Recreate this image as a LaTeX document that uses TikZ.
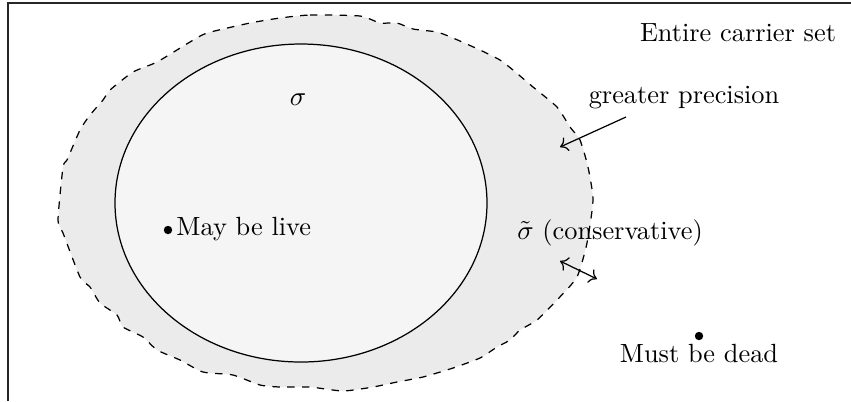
\documentclass[tikz,border=0pt]{standalone}
\usetikzlibrary{arrows.meta}
\definecolor{outerfill}{HTML}{EBEBEB}
\definecolor{innerfill}{HTML}{F5F5F5}
\begin{document}
\begin{tikzpicture}[x=0.01422cm,y=-0.01422cm,
  lbl/.style={inner sep=0pt,font=\fontsize{10.65}{13}\selectfont},
  dotpt/.style={circle,fill=black,inner sep=0pt,minimum size=3.4pt},
  arr/.style={-{To[length=3pt,width=6pt]},line width=0.5pt}]
\useasboundingbox (0,0) rectangle (851,401);
\draw[line width=0.6pt,black!85] (8,401) -- (8,3) -- (851,3);
% outer conservative region
\draw[dashed,fill=outerfill,line width=0.5pt] plot[smooth cycle,tension=0.35] coordinates {
 (280,18) (310,15) (360,16) (380,23) (397,23) (413,29) (437,32) (453,38)
 (480,50) (500,60) (513,70) (533,87) (557,107) (570,127) (580,140) (588,167)
 (593,200) (587,243) (577,277) (557,300) (537,320) (520,330) (510,340) (497,347)
 (480,358) (453,368) (423,377) (397,382) (373,387) (343,391) (310,387) (280,387)
 (260,385) (233,375) (203,372)
 (180,360) (157,350) (143,337) (123,327) (117,315) (100,303) (90,287)
 (80,277) (63,233) (58,220) (63,167) (67,160) (80,130) (90,115) (103,100)
 (110,90) (133,72) (157,62) (190,42) (207,33) (250,23)};
% inner sigma
\draw[fill=innerfill,line width=0.5pt] (301,203) ellipse [x radius=186, y radius=159];
% labels
\node[lbl] (sigma) at (298,100) {$\sigma$};
\node[dotpt] (live) at (168,230) {};
\node[lbl,anchor=west] (livelbl) at (176,229) {May be live};
\node[lbl] (cons) at (610,233) {$\tilde{\sigma}$ (conservative)};
\node[dotpt] (dead) at (699,336) {};
\node[lbl,anchor=base] (deadlbl) at (699,362) {Must be dead};
\node[lbl] (entire) at (738,33) {Entire carrier set};
\node[lbl] (prec) at (684,98) {greater precision};
% arrows
\coordinate (p1) at (626,117);
\coordinate (p2) at (560,147);
\draw[arr] (p1) -- (p2);
\coordinate (q1) at (560,261);
\coordinate (q2) at (597,279);
\draw[arr,{To[length=3pt,width=6pt]}-{To[length=3pt,width=6pt]}] (q1) -- (q2);
\end{tikzpicture}
\end{document}
